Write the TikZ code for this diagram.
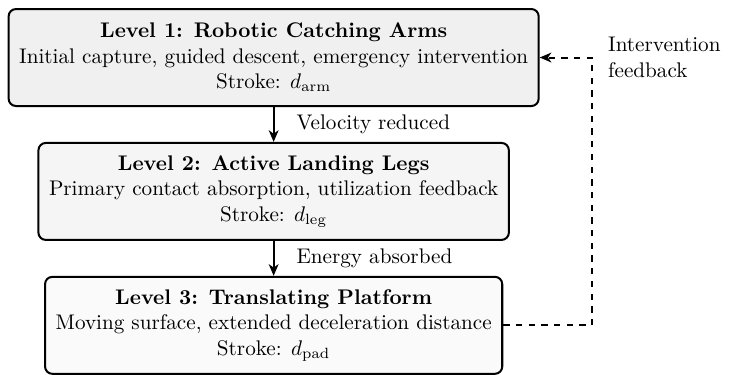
\documentclass[tikz,border=0pt]{standalone}
\usepackage{tikz}
\usetikzlibrary{arrows.meta,positioning,calc}

\begin{document}
\begin{tikzpicture}[line width=0.95pt, node distance = 0.58cm, >={Stealth[length=5.5pt,width=4.6pt,inset=1.6pt]},
level/.style={rectangle,draw,rounded corners=.8ex,align=center,inner xsep=5pt,minimum height=1.61cm},
flow/.style={->},
feedback/.style={->,dashed},
]

\node[level, fill=gray!12] (arms) {\textbf{Level 1: Robotic Catching Arms}\\Initial capture, guided descent, emergency intervention\\Stroke: $d_{\mathrm{arm}}$};
\node[level, fill=gray!8, below = of arms] (legs) {\textbf{Level 2: Active Landing Legs}\\Primary contact absorption, utilization feedback\\Stroke: $d_{\mathrm{leg}}$};
\node[level, fill=gray!4, below = of legs] (pad) {\textbf{Level 3: Translating Platform}\\Moving surface, extended deceleration distance\\Stroke: $d_{\mathrm{pad}}$};

\draw[flow] (arms) -- node[right, xshift=7pt] {Velocity reduced} (legs);
\draw[flow] (legs) -- node[right, xshift=7pt] {Energy absorbed} (pad);

\coordinate (fb) at ($(arms.east)+(0.87cm,0)$);
\draw[feedback] (pad.east) -| (fb) -- (arms.east);
\node[right, xshift=3.8pt, align=left] (fblabel) at (fb) {Intervention\\feedback};

\useasboundingbox ($(arms.north west)+(-3.6pt,3.8pt)$) rectangle ($(arms.north west)+(342.7pt,-172.4pt)$);
\end{tikzpicture}
\end{document}
